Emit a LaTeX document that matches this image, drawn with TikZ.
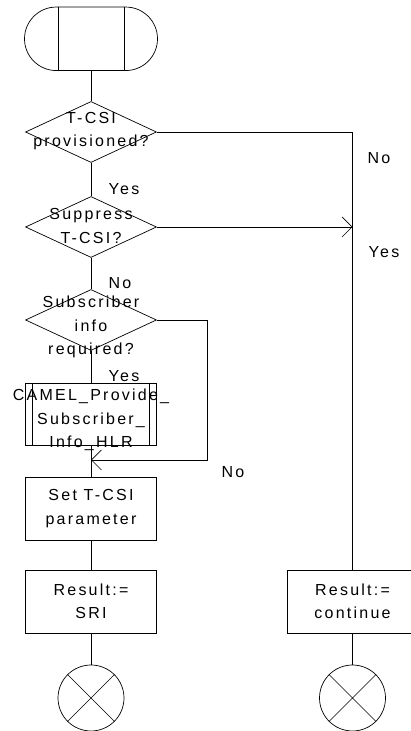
\documentclass[tikz,border=0pt]{standalone}
\usepackage{fontspec}
\setmainfont{Liberation Sans}[LetterSpace=14]
\usetikzlibrary{arrows.meta,shapes.geometric,shapes.misc}
\tikzset{
  flowline/.style = {line width=0.7pt},
  flowarr/.style  = {flowline,-{Straight Barb[length=10pt,width=20pt]}},
  txt/.style      = {align=center,font=\fontsize{16}{23.5}\selectfont,inner sep=0pt},
  boxnode/.style  = {draw,flowline,txt,minimum width=131pt,minimum height=63pt},
  decnode/.style  = {draw,flowline,diamond,minimum width=131pt,minimum height=61pt,inner sep=0pt},
  endnode/.style  = {draw,flowline,circle,minimum size=66pt,inner sep=0pt}
}

\begin{document}
\begin{tikzpicture}[x=1pt,y=1pt]
  \useasboundingbox (0,0) rectangle (411,731);
  % left column
  \node[draw,flowline,rounded rectangle,minimum width=133pt,minimum height=63.5pt,inner sep=0pt] (start) at (91,692.2) {};
  \draw[flowline] ([xshift=-33pt]start.north) -- ([xshift=-33pt]start.south);
  \draw[flowline] ([xshift=33pt]start.north) -- ([xshift=33pt]start.south);
  \node[decnode] (prov) at (91,599) {};
  \node[txt] (provtxt) at (91,600) {T-CSI\\provisioned?};
  \node[decnode] (supp) at (91,504) {};
  \node[txt] (supptxt) at (91,505) {Suppress\\T-CSI?};
  \node[decnode] (info) at (91,411) {};
  \node[txt] (infotxt) at (91,404) {Subscriber\\info\\required?};
  \node[boxnode,minimum height=62pt] (camel) at (91,317) {};
  \draw[flowline] ([xshift=7.5pt]camel.north west) -- ([xshift=7.5pt]camel.south west);
  \draw[flowline] ([xshift=-7.5pt]camel.north east) -- ([xshift=-7.5pt]camel.south east);
  \node[txt] (cameltxt) at (91,311) {CAMEL\_Provide\_\\Subscriber\_\\Info\_HLR};
  \coordinate (join) at (91,271);
  \node[boxnode] (set) at (91,222.5) {Set T-CSI\\parameter};
  \node[boxnode] (sri) at (91,129.5) {Result:=\\SRI};
  \node[endnode] (endL) at (91,33) {};
  % right column
  \node[boxnode] (cont) at (352.5,129.5) {Result:=\\continue};
  \node[endnode] (endR) at (352.5,33) {};
  \draw[flowline] (endL.north west) -- (endL.south east) (endL.north east) -- (endL.south west);
  \draw[flowline] (endR.north west) -- (endR.south east) (endR.north east) -- (endR.south west);
  % connectors
  \draw[flowline] (start.south) -- (prov.north);
  \draw[flowline] (prov.south) -- (supp.north);
  \draw[flowline] (supp.south) -- (info.north);
  \draw[flowline] (info.south) -- (camel.north);
  \draw[flowline] (camel.south) -- (set.north);
  \draw[flowline] (set.south) -- (sri.north);
  \draw[flowline] (sri.south) -- (endL.north);
  \draw[flowline] (cont.south) -- (endR.north);
  \draw[flowline] (prov.east) -| (cont.north);
  \draw[flowarr] (supp.east) -- (supp.east -| cont.north);
  \draw[flowarr] (info.east) -- ++(50,0) |- (join);
  % labels
  \node[txt] (noprov) at (379,573) {No};
  \node[txt] (yessupp) at (384,479) {Yes};
  \node[txt] (yesprov) at (124,542) {Yes};
  \node[txt] (nosupp) at (120,448) {No};
  \node[txt] (yesinfo) at (124,355) {Yes};
  \node[txt] (noinfo) at (233,259) {No};
\end{tikzpicture}
\end{document}
